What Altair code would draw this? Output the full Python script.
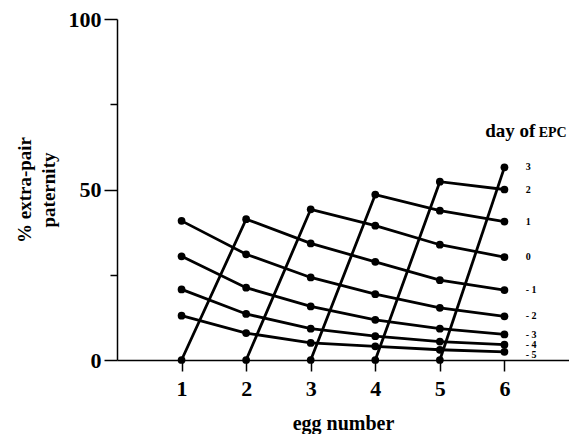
import altair as alt
import pandas as pd

eggs = [1, 2, 3, 4, 5, 6]
days = [3, 2, 1, 0, -1, -2, -3, -4, -5]
# % extra-pair paternity per egg (None = not drawn)
series = {
    3:  [None, None, None, None, 0, 56.5],
    2:  [None, None, None, 0, 52.3, 50.0],
    1:  [None, None, 0, 48.5, 43.8, 40.6],
    0:  [None, 0, 44.2, 39.4, 33.8, 30.2],
    -1: [0, 41.3, 34.2, 28.8, 23.4, 20.5],
    -2: [40.8, 31.0, 24.2, 19.3, 15.3, 12.8],
    -3: [30.4, 21.2, 15.7, 11.8, 9.2, 7.5],
    -4: [20.7, 13.5, 9.2, 7.0, 5.4, 4.5],
    -5: [13.0, 7.9, 5.0, 4.0, 3.0, 2.4],
}
day_labels = ["3", "2", "1", "0", "- 1", "- 2", "- 3", "- 4", "- 5"]
# vertical placement of the day labels (spread apart at the bottom, as in the original)
label_pos = [56.5, 50.0, 40.6, 30.2, 20.5, 12.8, 7.4, 4.3, 1.4]

rows = []
for d in days:
    for e, v in zip(eggs, series[d]):
        if v is not None:
            rows.append({"egg": e, "pct": v, "day": d})
df = pd.DataFrame(rows)

lab = pd.DataFrame({
    "egg": [6.33] * len(days),
    "pct": label_pos,
    "label": day_labels,
})

title_df = pd.DataFrame({"egg": [6.48, 6.53], "pct": [65.4, 65.4], "t": ["day of", "EPC"]})

FONT = "Liberation Serif"

x = alt.X("egg:Q", scale=alt.Scale(domain=[0, 7], nice=False),
          axis=alt.Axis(values=eggs, format="d", title="egg number", grid=False,
                        tickSize=11, tickWidth=1.5, domainWidth=1.5,
                        domainColor="black", tickColor="black",
                        labelFont=FONT, labelFontSize=22, labelFontWeight="bold",
                        labelColor="black", labelPadding=7,
                        titleFont=FONT, titleFontSize=20, titleFontWeight="bold",
                        titleColor="black", titlePadding=14))
y = alt.Y("pct:Q", scale=alt.Scale(domain=[0, 100], nice=False),
          axis=alt.Axis(values=[0, 25, 50, 75, 100], title=["% extra-pair", "paternity"],
                        labelExpr="datum.value % 50 === 0 ? datum.label : ''",
                        tickSize={"condition": {"test": "datum.value % 50 === 0", "value": 13}, "value": 7},
                        grid=False, tickWidth=1.5, domainWidth=1.5,
                        domainColor="black", tickColor="black",
                        labelFont=FONT, labelFontSize=22, labelFontWeight="bold",
                        labelColor="black", labelPadding=3,
                        titleFont=FONT, titleFontSize=19, titleFontWeight="bold",
                        titleColor="black", titlePadding=10, titleLineHeight=24))

lines = alt.Chart(df).mark_line(color="black", strokeWidth=2.8).encode(
    x=x, y=y, detail="day:N", order="egg:Q")
pts = alt.Chart(df).mark_point(filled=True, color="black", opacity=1, size=60, shape="circle").encode(
    x="egg:Q", y="pct:Q")
labels = alt.Chart(lab).mark_text(font=FONT, fontSize=10, fontWeight="bold", align="left",
                                  baseline="middle", color="black").encode(
    x="egg:Q", y="pct:Q", text="label:N")
t1 = alt.Chart(title_df.iloc[[0]]).mark_text(font=FONT, fontSize=19, fontWeight="bold", align="right",
                                             baseline="alphabetic", color="black").encode(
    x="egg:Q", y="pct:Q", text="t:N")
t2 = alt.Chart(title_df.iloc[[1]]).mark_text(font=FONT, fontSize=14, fontWeight="bold", align="left",
                                             baseline="alphabetic", color="black").encode(
    x="egg:Q", y="pct:Q", text="t:N")

chart = alt.layer(lines, pts, labels, t1, t2).properties(
    width=452, height=341,
    padding={"left": 117, "top": 19, "right": 0, "bottom": 74},
    autosize=alt.AutoSizeParams(type="none"),
    background="white",
).configure_view(stroke=None)

chart.save("out.html", embed_options={"renderer": "svg", "actions": False})
